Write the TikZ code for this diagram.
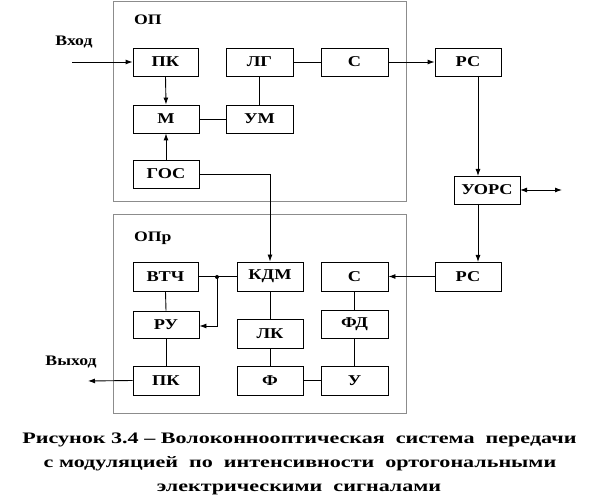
\documentclass[tikz,border=0pt]{standalone}
\usepackage{fontspec}
\setmainfont{Liberation Serif}
\usetikzlibrary{arrows.meta,calc}
\newcommand{\wlbl}[1]{\scalebox{1.22}[1]{#1}}
\begin{document}
\begin{tikzpicture}[x=1pt,y=-1pt,
  blk/.style={draw=black,line width=0.9pt,minimum width=66pt,minimum height=28pt,inner sep=0pt,font=\fontsize{15}{15}\selectfont\bfseries},
  grp/.style={draw=gray!90,line width=1pt},
  ln/.style={line width=0.9pt},
  arr/.style={line width=0.9pt,-{Latex[length=7pt,width=5pt]}},
  lbl/.style={font=\fontsize{14.5}{14.5}\selectfont\bfseries,inner sep=0pt},
  captxt/.style={font=\fontsize{16}{16}\selectfont\bfseries,inner sep=0pt}]
\useasboundingbox (0,0) rectangle (598,502);
% group frames
\draw[grp] (113,1.5) rectangle (406.5,202);
\draw[grp] (113,215) rectangle (406.5,414);
\node[lbl,anchor=base west] (op) at (134,25) {\wlbl{ОП}};
\node[lbl,anchor=base west] (opr) at (134,242) {\wlbl{ОПр}};
% top blocks
\node[blk,minimum width=65pt] (pk1) at (165.5,62) {\wlbl{ПК}};
\node[blk,minimum width=67pt] (lg) at (259.5,62) {\wlbl{ЛГ}};
\node[blk,minimum width=67pt] (s1) at (354.5,62) {\wlbl{С}};
\node[blk] (rs1) at (468,62) {\wlbl{РС}};
\node[blk] (m) at (166,119) {\wlbl{М}};
\node[blk,minimum width=67pt] (um) at (259.5,119) {\wlbl{УМ}};
\node[blk] (gos) at (166,174) {\wlbl{ГОС}};
\node[blk] (uors) at (487,190) {\wlbl{УОРС}};
% bottom blocks
\node[blk,minimum width=65pt,minimum height=29pt] (vtch) at (165.5,276.5) {\wlbl{ВТЧ}};
\node[blk,minimum height=29pt] (kdm) at (270,276.5) {\wlbl{КДМ}};
\node[blk,minimum width=67pt,minimum height=29pt] (s2) at (354.5,276.5) {\wlbl{С}};
\node[blk,minimum height=29pt] (rs2) at (468,276.5) {\wlbl{РС}};
\node[blk,minimum height=27pt] (ru) at (166,324.5) {\wlbl{РУ}};
\node[blk,minimum height=29pt] (lk) at (270,333.5) {\wlbl{ЛК}};
\node[blk,minimum width=67pt] (fd) at (354.5,324) {\wlbl{ФД}};
\node[blk,minimum height=29pt] (pk2) at (166,380.5) {\wlbl{ПК}};
\node[blk,minimum height=29pt] (f) at (270,380.5) {\wlbl{Ф}};
\node[blk,minimum width=67pt,minimum height=29pt] (u) at (354.5,380.5) {\wlbl{У}};
% labels
\node[lbl] (vhod) at (74,42) {\wlbl{Вход}};
\node[lbl] (vyhod) at (71,362) {\wlbl{Выход}};
% coordinates
\coordinate (inS) at (72,62);
\coordinate (outE) at (88,381);
\coordinate (gosC) at (270,174);
\coordinate (dot) at (217,277);
\coordinate (dotD) at (217,326);
\coordinate (rsA) at (478,76);
\coordinate (rsB) at (478,176);
\coordinate (rsC) at (478,204);
\coordinate (rsD) at (478,262);
\coordinate (biL) at (520,190);
\coordinate (biR) at (562,190);
% connectors top
\draw[arr] (inS) -- (pk1.west);
\draw[arr] (pk1.south) -- (m.north);
\draw[arr] (gos.north) -- (m.south);
\draw[ln] (lg.south) -- (um.north);
\draw[ln] (m.east) -- (um.west);
\draw[ln] (lg.east) -- (s1.west);
\draw[arr] (s1.east) -- (rs1.west);
\draw[arr] (rsA) -- (rsB);
\draw[arr] (rsC) -- (rsD);
\draw[line width=0.9pt,{Latex[length=7pt,width=5pt]}-{Latex[length=7pt,width=5pt]}] (biL) -- (biR);
\draw[arr] (gos.east) -- (gosC) -- (kdm.north);
% connectors bottom
\draw[ln] (vtch.east) -- (kdm.west);
\fill (dot) circle (2pt);
\draw[arr] (dot) -- (dotD) -- (ru.east |- dotD);
\draw[arr] (rs2.west) -- (s2.east);
\draw[ln] (vtch.south) -- (ru.north);
\draw[ln] (ru.south) -- (pk2.north);
\draw[ln] (kdm.south) -- (lk.north);
\draw[ln] (lk.south) -- (f.north);
\draw[ln] (s2.south) -- (fd.north);
\draw[ln] (fd.south) -- (u.north);
\draw[ln] (f.east) -- (u.west);
\draw[arr] (pk2.west) -- (outE);
% caption
\node[captxt] (c1) at (299.5,440) {\scalebox{1.38}[1]{Рисунок 3.4 -- Волоконнооптическая\ \ система\ \ передачи}};
\node[captxt] (c2) at (300,464) {\scalebox{1.38}[1]{с модуляцией\ \ по\ \ интенсивности\ \ ортогональными}};
\node[captxt] (c3) at (299,489) {\scalebox{1.38}[1]{электрическими\ \ сигналами}};
\end{tikzpicture}
\end{document}
